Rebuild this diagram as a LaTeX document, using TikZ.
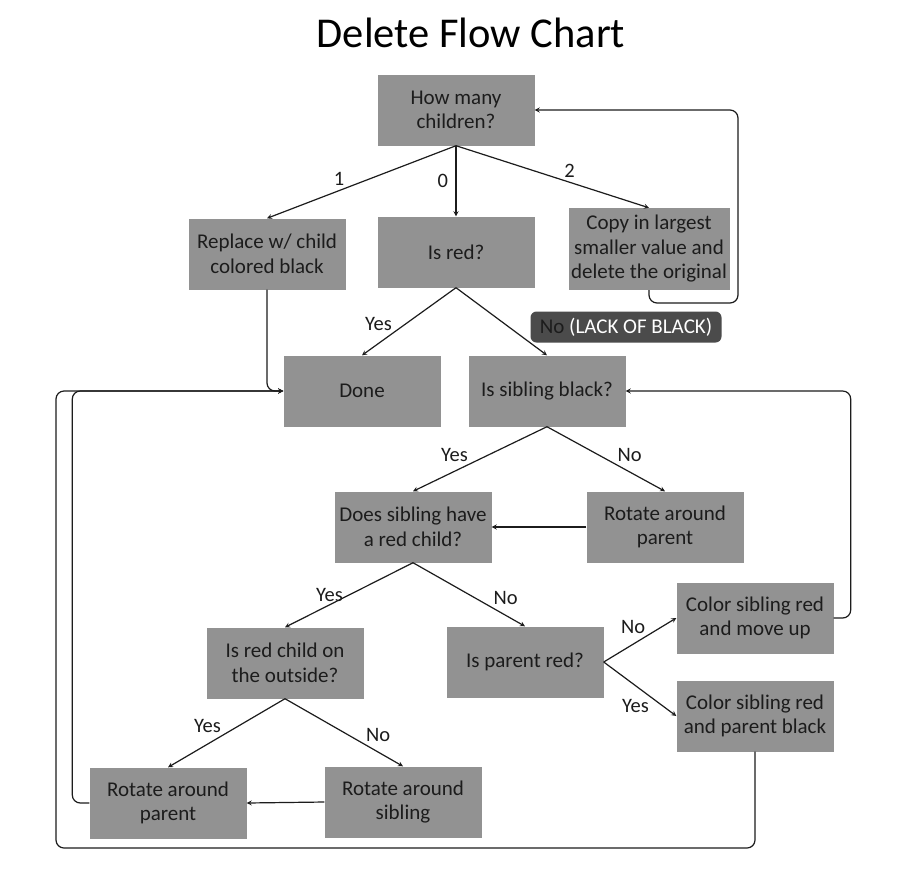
\documentclass[tikz,border=0pt]{standalone}
\usepackage{fontspec}
\setmainfont{Carlito}
\usepackage{xcolor}
\usetikzlibrary{positioning}
\definecolor{boxgray}{HTML}{929292}
\definecolor{taggray}{HTML}{4B4B4B}
\definecolor{ink}{HTML}{1C1C1C}
\tikzset{
  stepbox/.style={fill=boxgray, text=ink, minimum width=157pt, minimum height=71pt,
    align=center, inner sep=1pt, font=\fontsize{21}{24.5}\selectfont},
  lbl/.style={text=ink, inner sep=1.5pt, font=\fontsize{20.5}{22}\selectfont},
  tagbox/.style={fill=taggray, text=ink, rounded corners=6pt, minimum width=191pt,
    minimum height=31pt, inner sep=1pt, font=\fontsize{21}{22}\selectfont},
}
\begin{document}
\begin{tikzpicture}[x=1pt,y=-1pt,>=stealth]
\fill[white] (0,0) rectangle (912,868);
\useasboundingbox (0,0) rectangle (912,868);
\node[text=black, font=\fontsize{42.5}{48}\selectfont] (title) at (471,33) {Delete Flow Chart};
\node[stepbox] (hmc) at (456,110) {How many\\children?};
\node[stepbox] (rep) at (267,254) {Replace w/ child\\colored black};
\node[stepbox] (isred) at (456,252) {Is red?};
\node[stepbox, minimum width=161pt, minimum height=82pt] (copy) at (649,249) {Copy in largest\\smaller value and\\delete the original};
\node[stepbox] (done) at (362,391) {Done};
\node[stepbox] (isb) at (547,391) {Is sibling black?};
\node[stepbox] (dsh) at (413,527) {Does sibling have\\a red child?};
\node[stepbox] (rap) at (665,527) {Rotate around\\parent};
\node[stepbox] (irc) at (285,663) {Is red child on\\the outside?};
\node[stepbox] (ipr) at (525,662) {Is parent red?};
\node[stepbox] (cmu) at (755,618) {Color sibling red\\and move up};
\node[stepbox] (cpb) at (755,716) {Color sibling red\\and parent black};
\node[stepbox] (rpb) at (168,803) {Rotate around\\parent};
\node[stepbox] (rs) at (403,802) {Rotate around\\sibling};
\node[tagbox] (nolack) at (626,327) {No \textcolor{white}{(LACK OF BLACK)}};
\coordinate (loopr) at (738,303);
\coordinate (lowleft) at (56,848);
\begin{scope}[line width=1.2pt, draw=ink, rounded corners=8pt]
\draw[->] (hmc.south) -- (rep.north) node [lbl,pos=.58,above left] {1};
\draw[->] (hmc.south) -- (isred.north) node [lbl,midway,left=6pt] {0};
\draw[->] (hmc.south) -- (copy.north) node [lbl,pos=.55,above right] {2};
\draw[->] (copy.south) |- (loopr) |- (hmc.east);
\draw[->] (rep.south) |- (done.west);
\draw[->] (isred.south) -- (done.north) node [lbl,pos=.66,above left] {Yes};
\draw[->] (isred.south) -- (isb.north);
\draw[->] (isb.south) -- (dsh.north) node [lbl,pos=.575,above left] {Yes};
\draw[->] (isb.south) -- (rap.north) node [lbl,pos=.58,above right] {No};
\draw[->] (rap.west) -- (dsh.east);
\draw[->] (dsh.south) -- (irc.north) node [lbl,midway,left=4pt] {Yes};
\draw[->] (dsh.south) -- (ipr.north) node [lbl,pos=.7,above right] {No};
\draw[->] (ipr.east) -- (cmu.west) node [lbl,pos=.6,above left] {No};
\draw[->] (ipr.east) -- (cpb.west) node [lbl,pos=.65,below left] {Yes};
\draw[->] (cmu.east) -- ++(17,0) |- (isb.east);
\draw[->] (cpb.south) |- (lowleft) |- (done.west);
\draw[->] (irc.south) -- (rpb.north) node [lbl,pos=.53,above left] {Yes};
\draw[->] (irc.south) -- (rs.north) node [lbl,pos=.67,above right] {No};
\draw[->] (rs.west) -- (rpb.east);
\draw[->] (rpb.west) -- ++(-17,0) |- (done.west);
\end{scope}
\end{tikzpicture}
\end{document}
